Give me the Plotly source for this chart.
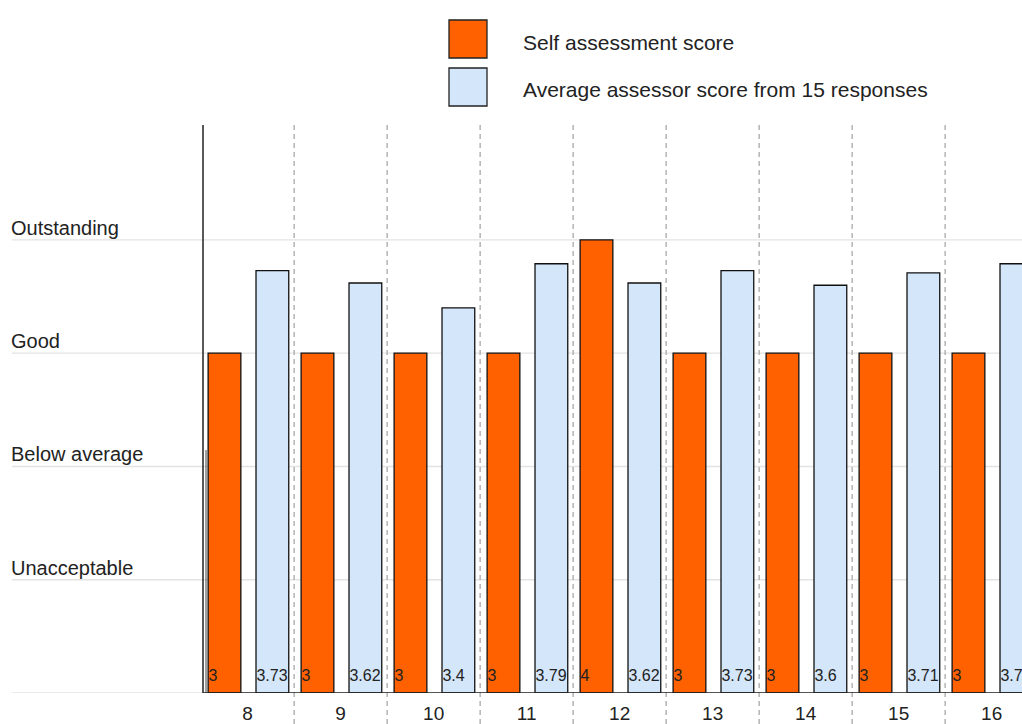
import plotly.graph_objects as go

# ---- data ----
questions = [8, 9, 10, 11, 12, 13, 14, 15, 16]
self_scores = [3, 3, 3, 3, 4, 3, 3, 3, 3]
assessor_scores = [3.73, 3.62, 3.4, 3.79, 3.62, 3.73, 3.6, 3.71, 3.79]
level_values = [1, 2, 3, 4]
level_labels = ["Unacceptable", "Below average", "Good", "Outstanding"]
series_names = ["Self assessment score", "Average assessor score from 15 responses"]

# ---- layout constants ----
W, H = 1022, 724
L, R, T, B = 203, 0, 125, 31
PW, PH = W - L - R, H - T - B
ORANGE = "#FF6100"
BLUE = "#D4E6FA"
FONT = "Liberation Sans, Arial, sans-serif"

def px_x(p):
    return (p - L) / PW

def px_y(p):
    return (H - B - p) / PH

BAR_W = 0.352
OFF_SELF = -0.425
OFF_AVG = 0.09
X0 = 7.52

fig = go.Figure()
fig.add_trace(go.Bar(
    x=questions, y=self_scores, width=BAR_W, offset=OFF_SELF,
    marker=dict(color=ORANGE, line=dict(color="#111", width=1.3)),
    showlegend=False, hoverinfo="skip"))
fig.add_trace(go.Bar(
    x=questions, y=assessor_scores, width=BAR_W, offset=OFF_AVG,
    marker=dict(color=BLUE, line=dict(color="#111", width=1.3)),
    showlegend=False, hoverinfo="skip"))

# value labels at bar bottoms, left-aligned
fig.add_trace(go.Scatter(
    x=[q + OFF_SELF + 0.005 for q in questions], y=[0.14] * len(questions),
    text=[f"{v:g}" for v in self_scores], mode="text", textposition="middle right",
    textfont=dict(family=FONT, size=16, color="#222"), showlegend=False, hoverinfo="skip"))
fig.add_trace(go.Scatter(
    x=[q + OFF_AVG + 0.005 for q in questions], y=[0.14] * len(questions),
    text=[f"{v:g}" for v in assessor_scores], mode="text", textposition="middle right",
    textfont=dict(family=FONT, size=16, color="#222"), showlegend=False, hoverinfo="skip"))

shapes = []
annotations = []
# horizontal gridlines extending into left margin
for v in [0] + level_values:
    shapes.append(dict(type="line", xref="paper", yref="y", x0=px_x(12), x1=1.0, y0=v, y1=v,
                       line=dict(color="#E3E3E3", width=1.3), layer="below"))
for v, lab in zip(level_values, level_labels):
    annotations.append(dict(xref="paper", yref="y", x=px_x(9), y=v, text=lab, showarrow=False,
                            xanchor="left", yanchor="bottom", yshift=-1,
                            font=dict(family=FONT, size=20, color="#222")))
# dashed separators between categories
for q in questions[:-1]:
    shapes.append(dict(type="line", xref="x", yref="paper", x0=q + 0.5, x1=q + 0.5,
                       y0=px_y(H), y1=1.0, line=dict(color="#A8A8A8", width=1.3, dash="5px,4px"),
                       layer="below"))
# axis lines
shapes.append(dict(type="line", xref="paper", yref="paper", x0=0, x1=0, y0=0, y1=1,
                   line=dict(color="#222", width=1.5)))
shapes.append(dict(type="line", xref="paper", yref="paper", x0=px_x(206), x1=px_x(206), y0=0, y1=px_y(450),
                   line=dict(color="#444", width=1)))
shapes.append(dict(type="line", xref="paper", yref="y", x0=0, x1=1, y0=0, y1=0,
                   line=dict(color="#222", width=1.5)))

# legend
for i, (name, col) in enumerate(zip(series_names, [ORANGE, BLUE])):
    y0 = 20 + i * 48
    shapes.append(dict(type="rect", xref="paper", yref="paper",
                       x0=px_x(449), x1=px_x(487), y0=px_y(y0 + 38), y1=px_y(y0),
                       fillcolor=col, line=dict(color="#222", width=1.3)))
    annotations.append(dict(xref="paper", yref="paper", x=px_x(521), y=px_y(y0 + 22), text=name,
                            showarrow=False, xanchor="left", yanchor="middle",
                            font=dict(family=FONT, size=21, color="#222")))

fig.update_layout(
    width=W, height=H,
    margin=dict(l=L, r=R, t=T, b=B, autoexpand=False),
    paper_bgcolor="white", plot_bgcolor="white",
    barmode="overlay",
    shapes=shapes, annotations=annotations,
    xaxis=dict(range=[X0, X0 + PW / 93.0], tickmode="array", tickvals=questions,
               ticktext=[str(q) for q in questions], showgrid=False, zeroline=False,
               showline=False, ticks="", tickfont=dict(family=FONT, size=19, color="#222"),
               ticklabelstandoff=7, fixedrange=True),
    yaxis=dict(range=[0, 5.015], showgrid=False, zeroline=False, showline=False,
               showticklabels=False, ticks="", fixedrange=True),
)

fig.write_html("out.html")
